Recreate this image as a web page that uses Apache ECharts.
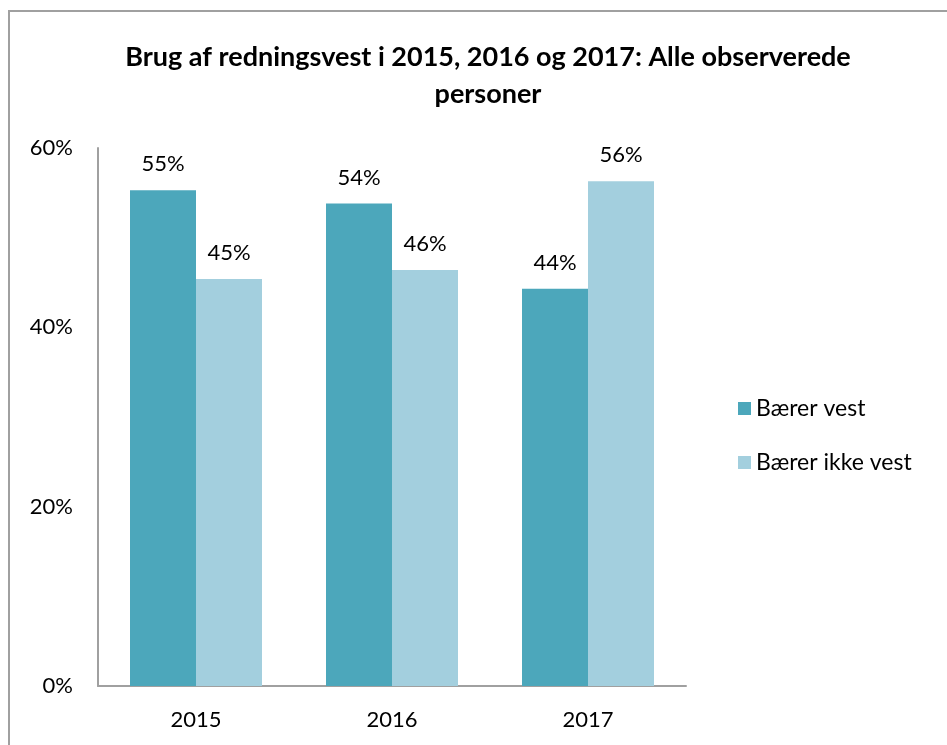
<!DOCTYPE html>
<html><head><meta charset="utf-8">
<script src="https://cdn.jsdelivr.net/npm/echarts@6/dist/echarts.min.js"></script>
<style>html,body{margin:0;padding:0;background:#fff}#c{width:947px;height:745px}</style>
</head><body><div id="c"></div>
<script>
const categories = ['2015', '2016', '2017'];
const seriesNames = ['Bærer vest', 'Bærer ikke vest'];
const wearing = [55.3, 53.8, 44.3];
const notWearing = [45.4, 46.4, 56.3];
const yTicks = [0, 20, 40, 60];

const FONT = 'Lato';
const chart = echarts.init(document.getElementById('c'));
const labelOpt = {
  show: true, position: 'top', distance: 15,
  fontFamily: FONT, fontSize: 22, color: '#000',
  formatter: p => Math.round(p.value) + '%'
};
chart.setOption({
  animation: false,
  title: {
    text: 'Brug af redningsvest i 2015, 2016 og 2017: Alle observerede\npersoner',
    left: 483, top: 34, textAlign: 'center',
    textStyle: { fontFamily: FONT, fontWeight: 'bold', fontSize: 27, color: '#000', lineHeight: 37 }
  },
  legend: {
    orient: 'vertical', left: 733, top: 392, itemGap: 31,
    itemWidth: 13, itemHeight: 13, icon: 'rect',
    textStyle: { fontFamily: FONT, fontSize: 23, color: '#000' },
    data: seriesNames
  },
  grid: { left: 98, right: 261, top: 148, bottom: 59 },
  xAxis: {
    type: 'category', data: categories,
    axisLine: { lineStyle: { color: '#a0a0a0', width: 2 } },
    axisTick: { show: false },
    axisLabel: { fontFamily: FONT, fontSize: 22, color: '#000', margin: 23 }
  },
  yAxis: {
    type: 'value', min: 0, max: 60, interval: 20,
    axisLine: { show: true, lineStyle: { color: '#a0a0a0', width: 2 } },
    axisTick: { show: false },
    splitLine: { show: false },
    axisLabel: {
      fontFamily: FONT, fontSize: 22, color: '#000', margin: 25,
      formatter: v => yTicks.includes(v) ? v + '%' : ''
    }
  },
  graphic: [{
    type: 'rect', shape: { x: 9, y: 11, width: 960, height: 760 },
    style: { fill: 'none', stroke: '#a0a0a0', lineWidth: 2 }, silent: true
  }],
  series: [
    { name: seriesNames[0], type: 'bar', data: wearing, barWidth: 66, barGap: '0%',
      itemStyle: { color: '#4ca7bb' }, label: labelOpt },
    { name: seriesNames[1], type: 'bar', data: notWearing, barWidth: 66,
      itemStyle: { color: '#a3cfde' }, label: labelOpt }
  ]
});
</script></body></html>
